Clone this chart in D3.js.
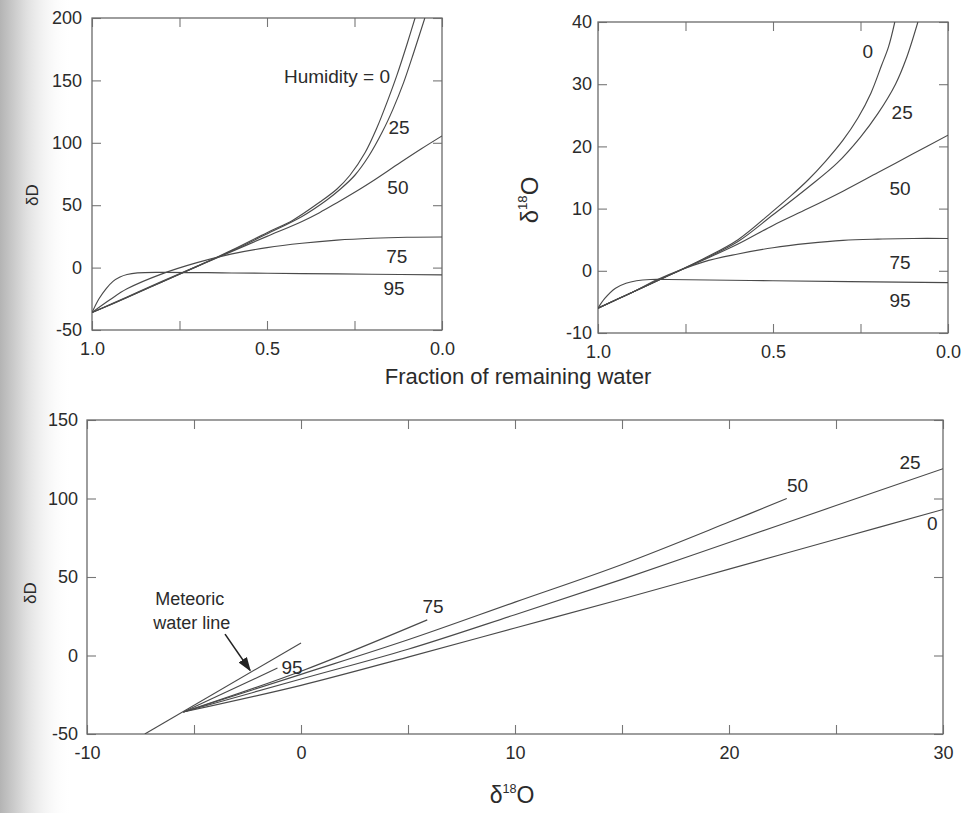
<!DOCTYPE html>
<html>
<head>
<meta charset="utf-8">
<script src="https://cdn.jsdelivr.net/npm/d3@7"></script>
<style>
body{margin:0;background:#fff}
svg text{font-family:"Liberation Sans",Arial,sans-serif;fill:#2b2b2b}
</style>
</head>
<body>
<svg id="chart" width="969" height="813"></svg>
<script>
// values
const humidity = ['0', '25', '50', '75', '95']

// dD against fraction of remaining water, one list per humidity
const dD_h0 = [[1,-36],[0.9,-24],[0.8,-11.5],[0.7,1],[0.6,14],[0.5,28],[0.426,38],[0.349,52.5],[0.3,63],[0.263,74],[0.22,92],[0.186,112],[0.155,134],[0.129,154],[0.1,179],[0.077,200]]
const dD_h25 = [[1,-36],[0.9,-24],[0.8,-11.5],[0.7,1],[0.6,13.5],[0.5,27],[0.4,41],[0.33,54],[0.29,63],[0.249,74],[0.21,89],[0.17,109],[0.14,127],[0.11,148],[0.08,173],[0.049,200]]
const dD_h50 = [[1,-36],[0.9,-23.5],[0.8,-11],[0.7,1],[0.6,13],[0.5,25],[0.4,37],[0.35,44],[0.3,52],[0.234,63],[0.2,69],[0.12,84],[0.06,95],[0,105.5]]
const dD_h75 = [[1,-36],[0.95,-26],[0.9,-17],[0.8,-5],[0.7,4],[0.6,11],[0.5,16],[0.4,19.5],[0.3,22],[0.2,23.5],[0.1,24.3],[0,24.5]]
const dD_h95 = [[1,-36],[0.98,-25],[0.96,-17],[0.94,-11],[0.92,-7.5],[0.9,-5.5],[0.87,-4.2],[0.8,-3.8],[0.6,-4.3],[0.4,-4.8],[0.2,-5.3],[0,-5.8]]

// d18O against fraction of remaining water
const dO_h0 = [[1,-6],[0.9,-3.4],[0.8,-0.8],[0.7,1.9],[0.6,5],[0.5,9.6],[0.45,12],[0.4,14.6],[0.35,17.6],[0.3,21],[0.257,24.6],[0.22,28.6],[0.19,33],[0.17,36],[0.152,40]]
const dO_h25 = [[1,-6],[0.9,-3.4],[0.8,-0.8],[0.7,1.8],[0.6,4.7],[0.5,9],[0.4,13.4],[0.317,17.3],[0.25,21.5],[0.2,25.3],[0.15,30],[0.12,34],[0.086,40]]
const dO_h50 = [[1,-6],[0.9,-3.4],[0.8,-0.8],[0.7,1.7],[0.6,4.3],[0.5,7.3],[0.4,10],[0.3,12.8],[0.2,15.8],[0.1,18.8],[0,21.8]]
const dO_h75 = [[1,-6],[0.9,-3.4],[0.83,-1.4],[0.7,1.4],[0.6,2.7],[0.5,3.7],[0.4,4.4],[0.3,4.9],[0.2,5.1],[0.1,5.2],[0,5.2]]
const dO_h95 = [[1,-6],[0.98,-4.4],[0.95,-2.8],[0.92,-2],[0.89,-1.6],[0.85,-1.4],[0.8,-1.4],[0.5,-1.6],[0,-1.9]]

// dD against d18O
const dual_h0 = [[-5.5,-36],[0,-19],[5,-1],[10,17.5],[15,36],[20,55],[25,74],[30,93]]
const dual_h25 = [[-5.5,-36],[0,-15],[5,4],[10,26],[15,48.5],[20,72],[25,95.5],[30,119]]
const dual_h50 = [[-5.5,-36],[0,-12],[5,10],[10,34],[15,58],[20,85],[22.7,100]]
const dual_h75 = [[-5.5,-36],[0,-10],[5.9,22.7]]
const dual_h95 = [[-5.5,-36],[-1.1,-8]]
const meteoric = [[-7.3,-50],[0,8]]

// tick values
const fracTicks = [1, 0.75, 0.5, 0.25, 0]
const fracLabels = [1, 0.5, 0]
const dDTicksTop = [-50, 0, 50, 100, 150, 200]
const dOTicks = [-10, 0, 10, 20, 30, 40]
const dDTicksBottom = [-50, 0, 50, 100, 150]
const oxTicks = [-10, -5, 0, 5, 10, 15, 20, 25, 30]
const oxLabels = [-10, 0, 10, 20, 30]

// curve labels [text, x value, y value]
const labelsTL = [['Humidity = 0',0.3,153.5],['25',0.123,112],['50',0.126,64],['75',0.129,8.5],['95',0.137,-17]]
const labelsTR = [['0',0.229,35.2],['25',0.131,25.4],['50',0.137,13.3],['75',0.137,1.3],['95',0.137,-4.7]]
const labelsB = [['95',-0.42,-7.6],['75',6.17,31],['50',23.2,108.2],['25',28.46,123],['0',29.5,83.8]]

const svg = d3.select('#chart')
const defs = svg.append('defs')

// grey shading of the scanned page edge
const grad = defs.append('linearGradient').attr('id', 'edge').attr('x1', 0).attr('x2', 1)
grad.append('stop').attr('offset', '0%').attr('stop-color', '#b4b4b4')
grad.append('stop').attr('offset', '35%').attr('stop-color', '#dedede')
grad.append('stop').attr('offset', '100%').attr('stop-color', '#fff').attr('stop-opacity', 0)
svg.append('rect').attr('width', 72).attr('height', 813).attr('fill', 'url(#edge)')

defs.append('marker').attr('id', 'arrow')
	.attr('viewBox', '0 0 10 10').attr('refX', 9).attr('refY', 5)
	.attr('markerWidth', 9).attr('markerHeight', 9).attr('orient', 'auto')
	.append('path').attr('d', 'M0,1.5 L10,5 L0,8.5 Z').attr('fill', '#222')

const lineColor = '#4a4a4a'
let clipCount = 0

function panel(cfg) {
	const x = d3.scaleLinear().domain(cfg.xDomain).range([cfg.left, cfg.right])
	const y = d3.scaleLinear().domain(cfg.yDomain).range([cfg.bottom, cfg.top])
	const g = svg.append('g')

	const id = 'clip' + (clipCount++)
	defs.append('clipPath').attr('id', id).append('rect')
		.attr('x', cfg.left).attr('y', cfg.top)
		.attr('width', cfg.right - cfg.left).attr('height', cfg.bottom - cfg.top)

	const fmt = cfg.xFormat
	const bottomAxis = d3.axisBottom(x).tickValues(cfg.xTicks)
		.tickFormat(d => cfg.xLabels.includes(d) ? fmt(d) : '')
		.tickSizeInner(-9).tickSizeOuter(0).tickPadding(12)
	const leftAxis = d3.axisLeft(y).tickValues(cfg.yTicks)
		.tickFormat(d => String(d))
		.tickSizeInner(-9).tickSizeOuter(0).tickPadding(cfg.yPad)
	const topAxis = d3.axisTop(x).tickValues(cfg.xTicks).tickFormat('').tickSizeInner(-9).tickSizeOuter(0)
	const rightAxis = d3.axisRight(y).tickValues(cfg.yTicks).tickFormat('').tickSizeInner(-9).tickSizeOuter(0)

	const axes = [
		[bottomAxis, `translate(0,${cfg.bottom})`],
		[leftAxis, `translate(${cfg.left},0)`],
		[topAxis, `translate(0,${cfg.top})`],
		[rightAxis, `translate(${cfg.right},0)`]
	]
	axes.forEach(([ax, tr]) => {
		const a = g.append('g').attr('transform', tr).call(ax)
		a.select('.domain').remove()
		a.selectAll('line').attr('stroke', '#777').attr('stroke-width', 1.1)
		a.selectAll('text').attr('font-size', 18).attr('font-family', '"Liberation Sans",Arial,sans-serif').attr('fill', '#2b2b2b')
	})

	g.append('rect')
		.attr('x', cfg.left).attr('y', cfg.top)
		.attr('width', cfg.right - cfg.left).attr('height', cfg.bottom - cfg.top)
		.attr('fill', 'none').attr('stroke', '#6a6a6a').attr('stroke-width', 1.3)

	const line = d3.line().x(d => x(d[0])).y(d => y(d[1])).curve(d3.curveCatmullRom.alpha(0.5))
	g.append('g').attr('clip-path', `url(#${id})`)
		.selectAll('path').data(cfg.series).enter()
		.append('path')
			.attr('d', line)
			.attr('fill', 'none')
			.attr('stroke', lineColor)
			.attr('stroke-width', 1.15)

	g.selectAll('text.curve').data(cfg.labels).enter()
		.append('text').attr('class', 'curve')
			.attr('x', d => x(d[1]))
			.attr('y', d => y(d[2]))
			.attr('text-anchor', 'middle')
			.attr('dominant-baseline', 'central')
			.attr('font-size', 19)
			.text(d => d[0])

	return {x, y, g}
}

const frac = d => d.toFixed(1)

panel({
	left: 92, right: 442, top: 18, bottom: 330,
	xDomain: [1, 0], yDomain: [-50, 200],
	xTicks: fracTicks, xLabels: fracLabels, xFormat: frac,
	yTicks: dDTicksTop, yPad: 10,
	series: [dD_h0, dD_h25, dD_h50, dD_h75, dD_h95],
	labels: labelsTL
})

panel({
	left: 598, right: 948, top: 22, bottom: 333,
	xDomain: [1, 0], yDomain: [-10, 40],
	xTicks: fracTicks, xLabels: fracLabels, xFormat: frac,
	yTicks: dOTicks, yPad: 6,
	series: [dO_h0, dO_h25, dO_h50, dO_h75, dO_h95],
	labels: labelsTR
})

const bottom = panel({
	left: 87, right: 943, top: 420, bottom: 734,
	xDomain: [-10, 30], yDomain: [-50, 150],
	xTicks: oxTicks, xLabels: oxLabels, xFormat: d => String(d),
	yTicks: dDTicksBottom, yPad: 9,
	series: [dual_h0, dual_h25, dual_h50, dual_h75, dual_h95, meteoric],
	labels: labelsB
})

// meteoric water line note + arrow
const bx = bottom.x, by = bottom.y
bottom.g.append('text').attr('x', bx(-5.2)).attr('y', by(36))
	.attr('text-anchor', 'middle').attr('dominant-baseline', 'central').attr('font-size', 18).text('Meteoric')
bottom.g.append('text').attr('x', bx(-5.1)).attr('y', by(21))
	.attr('text-anchor', 'middle').attr('dominant-baseline', 'central').attr('font-size', 18).text('water line')
bottom.g.append('line')
	.attr('x1', bx(-3.55)).attr('y1', by(13.6))
	.attr('x2', bx(-2.38)).attr('y2', by(-9.5))
	.attr('stroke', '#222').attr('stroke-width', 1.6)
	.attr('marker-end', 'url(#arrow)')

// axis titles
function deltaTitle(x, y, size, rotate, sup, tail) {
	const t = svg.append('text')
		.attr('transform', `translate(${x},${y})` + (rotate ? ' rotate(-90)' : ''))
		.attr('text-anchor', 'middle')
		.attr('font-size', size)
	t.append('tspan').text('δ')
	if (sup) {
		t.append('tspan').attr('font-size', size * 0.55).attr('dy', -size * 0.45).text(sup)
		t.append('tspan').attr('dy', size * 0.45).text(tail)
	} else {
		t.append('tspan').text(tail)
	}
}

deltaTitle(38, 195, 17, true, null, 'D')
deltaTitle(538, 200, 24, true, '18', 'O')
deltaTitle(36, 593, 17, true, null, 'D')
deltaTitle(512, 803, 23, false, '18', 'O')

svg.append('text').attr('x', 518).attr('y', 384)
	.attr('text-anchor', 'middle').attr('font-size', 22)
	.text('Fraction of remaining water')
</script>
</body>
</html>
